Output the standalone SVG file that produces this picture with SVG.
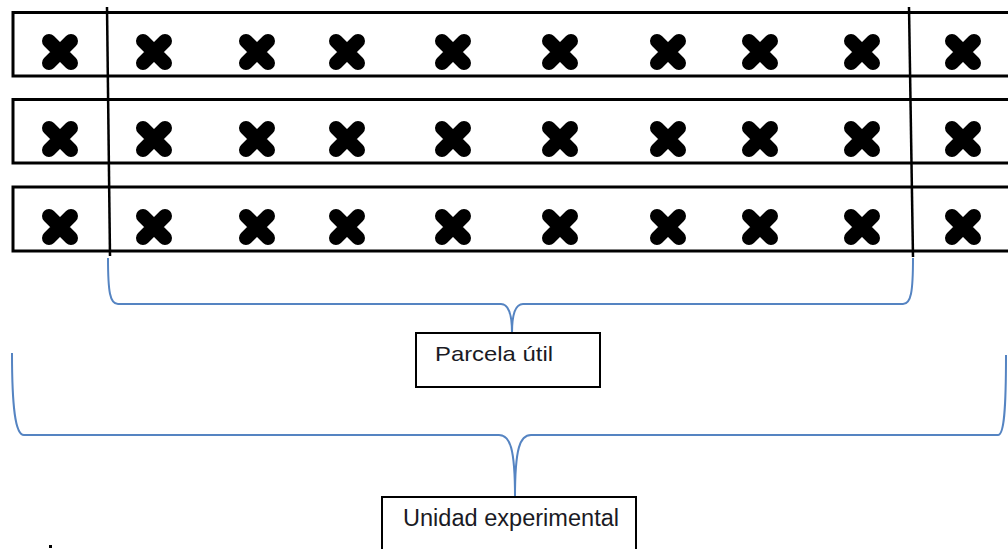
<svg xmlns="http://www.w3.org/2000/svg" xmlns:xlink="http://www.w3.org/1999/xlink" width="1008" height="549" viewBox="0 0 1008 549">
<style>
.row{fill:none;stroke:#000;stroke-width:3}
.div{stroke:#000;stroke-width:2.5;fill:none}
.brace{fill:none;stroke:#5584c2;stroke-width:2}
.box{fill:#fff;stroke:#000;stroke-width:2}
.lbl{font-family:"Liberation Sans",Arial,sans-serif;fill:#1a1a24}
</style>
<defs>
<g id="mark"><path d="M-11,-11 L11,11 M11,-11 L-11,11" stroke="#000" stroke-width="14" stroke-linecap="round" fill="none"/></g>
</defs>
<rect width="1008" height="549" fill="#fff"/>
<g id="rows">
<rect class="row" x="13" y="12.5" width="1000" height="63.5"/>
<rect class="row" x="13" y="99.5" width="1000" height="63.5"/>
<rect class="row" x="13" y="187" width="1000" height="64"/>
</g>
<g id="plants">
<g id="row1">
<use xlink:href="#mark" x="60" y="52"/><use xlink:href="#mark" x="154" y="52"/><use xlink:href="#mark" x="257" y="52"/><use xlink:href="#mark" x="347" y="52"/><use xlink:href="#mark" x="453" y="52"/><use xlink:href="#mark" x="560" y="52"/><use xlink:href="#mark" x="668" y="52"/><use xlink:href="#mark" x="760" y="52"/><use xlink:href="#mark" x="862" y="52"/><use xlink:href="#mark" x="963" y="52"/>
</g>
<g id="row2">
<use xlink:href="#mark" x="60" y="139"/><use xlink:href="#mark" x="154" y="139"/><use xlink:href="#mark" x="257" y="139"/><use xlink:href="#mark" x="347" y="139"/><use xlink:href="#mark" x="453" y="139"/><use xlink:href="#mark" x="560" y="139"/><use xlink:href="#mark" x="668" y="139"/><use xlink:href="#mark" x="760" y="139"/><use xlink:href="#mark" x="862" y="139"/><use xlink:href="#mark" x="963" y="139"/>
</g>
<g id="row3">
<use xlink:href="#mark" x="60" y="227"/><use xlink:href="#mark" x="154" y="227"/><use xlink:href="#mark" x="257" y="227"/><use xlink:href="#mark" x="347" y="227"/><use xlink:href="#mark" x="453" y="227"/><use xlink:href="#mark" x="560" y="227"/><use xlink:href="#mark" x="668" y="227"/><use xlink:href="#mark" x="760" y="227"/><use xlink:href="#mark" x="862" y="227"/><use xlink:href="#mark" x="963" y="227"/>
</g>
</g>
<g id="dividers">
<line class="div" x1="107" y1="7" x2="110" y2="256"/>
<line class="div" x1="909" y1="7" x2="913" y2="257"/>
</g>
<g id="connectors">
<path class="brace" d="M108,258 C108,292 110,304 118,304 L501,304 C508,304 512,312 512,333 C512,312 516,304 523,304 L903,304 C911,304 913,292 913,258"/>
<path class="brace" d="M12,353 C12,405 15,435 24,435 L499,435 C510,435 515,448 515,497 C515,448 520,435 531,435 L998,435 C1004,435 1006,410 1006,355"/>
</g>
<g id="parcela-util">
<rect class="box" x="416" y="333" width="184" height="54"/>
<text class="lbl" x="435" y="361" font-size="21" textLength="118" lengthAdjust="spacingAndGlyphs">Parcela útil</text>
</g>
<g id="unidad-experimental">
<rect class="box" x="382" y="497" width="254" height="60"/>
<text class="lbl" x="403" y="526" font-size="23" textLength="216" lengthAdjust="spacingAndGlyphs">Unidad experimental</text>
</g>
<rect x="49" y="545" width="3" height="3" fill="#000"/>
</svg>
